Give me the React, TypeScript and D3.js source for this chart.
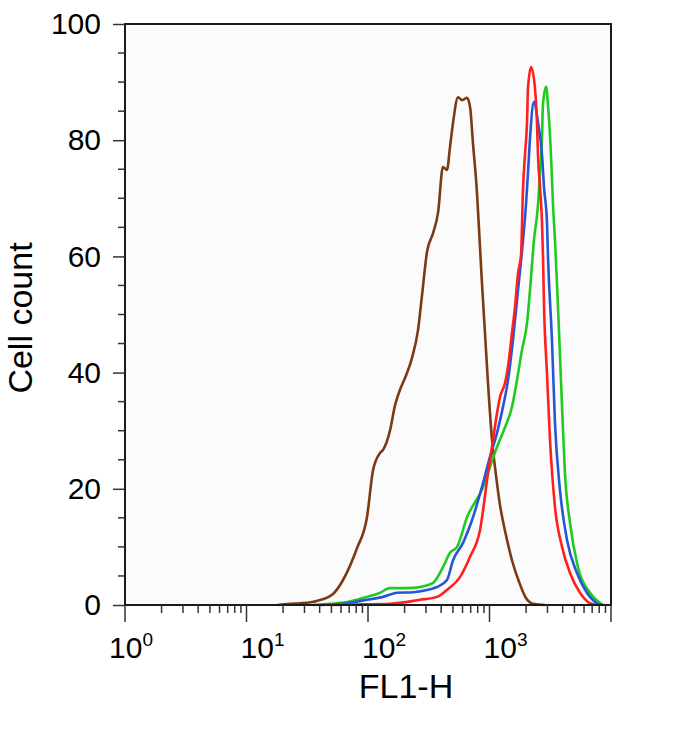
import React, { useEffect, useRef } from "react";
import * as d3 from "d3";

// y axis
const yMajor = [0, 20, 40, 60, 80, 100];
const yMinor = d3.range(0, 101, 5).filter(v => v % 20 !== 0);
// x axis decades (log scale)
const decades = [0, 1, 2, 3, 4];
const labelledDecades = [0, 1, 2, 3];

const xTitle = "FL1-H";
const yTitle = "Cell count";

// [FL1-H, cell count]
const brownCurve: [number, number][] = [
  [18.0, 0], [22.8, 0.2], [27.6, 0.3], [38.0, 0.7], [51.5, 1.9], [62.3, 4.3],
  [81.3, 9.8], [98.1, 15.1], [110, 23.2], [126, 26.2], [133, 26.7], [152, 30.1],
  [167, 34.4], [183, 37.0], [202, 39.1], [230, 42.5], [258, 47.3], [278, 53.2],
  [306, 60.8], [343, 64.0], [377, 67.5], [414, 75.4], [447, 74.9], [473, 78.8],
  [501, 83.0], [551, 87.4], [594, 86.9], [653, 87.3], [692, 85.7], [731, 79.5],
  [789, 70.9], [835, 61.6], [867, 55.4], [918, 46.8], [972, 38.2], [1049, 28.4],
  [1130, 22.4], [1220, 17.2], [1367, 12.0], [1531, 7.7], [1749, 4.0], [1995, 1.2],
  [2280, 0.2], [2864, 0]
];

const greenCurve: [number, number][] = [
  [35.3, 0], [48.7, 0.2], [67.2, 0.5], [90.9, 1.2], [125.6, 2.1], [151.7, 2.9],
  [209.4, 2.9], [267.9, 3.1], [342.8, 3.8], [414.0, 6.5], [473.2, 9.0], [540.8, 10.0],
  [653.1, 15.1], [885.1, 20.3], [1009, 23.8], [1153, 27.2], [1342, 30.6], [1531, 34.1],
  [1683, 38.7], [1851, 43.9], [2036, 48.5], [2155, 54.2], [2323, 62.8], [2506, 68.8],
  [2606, 74.5], [2704, 80.4], [2754, 86.1], [2917, 89.2], [3027, 86.1], [3206, 77.5],
  [3334, 68.8], [3459, 62.8], [3664, 51.3], [3954, 34.1], [4178, 22.7], [4603, 14.1],
  [5346, 6.5], [6714, 2.1], [8590, 0]
];

const blueCurve: [number, number][] = [
  [40.3, 0], [67.2, 0.3], [98.1, 0.9], [132.8, 1.4], [173.2, 2.1], [234.4, 2.2],
  [306.0, 2.6], [369.8, 3.1], [446.7, 4.3], [501.2, 7.7], [605.3, 10.7], [731.1, 15.1],
  [885.1, 21.0], [1009, 25.5], [1153, 29.6], [1291, 34.1], [1420, 38.7], [1560, 45.6],
  [1717, 54.2], [1888, 62.8], [1995, 68.8], [2075, 74.5], [2155, 80.4], [2323, 86.6],
  [2506, 83.1], [2704, 77.5], [2812, 71.8], [2972, 65.9], [3027, 60.2], [3266, 45.6],
  [3459, 31.3], [3802, 19.8], [4345, 11.2], [5248, 5.5], [6339, 2.1], [7674, 0.3],
  [8590, 0]
];

const redCurve: [number, number][] = [
  [48.7, 0], [90.9, 0.1], [151.7, 0.2], [267.9, 0.9], [369.8, 1.4], [446.7, 2.6],
  [571.5, 4.8], [691.8, 8.3], [835.6, 12.9], [972.7, 22.7], [1069, 28.4], [1153, 33.0],
  [1220, 35.8], [1342, 38.2], [1420, 41.0], [1531, 46.8], [1622, 51.3], [1717, 57.1],
  [1817, 60.2], [1888, 71.8], [1959, 77.5], [2036, 83.1], [2075, 89.0], [2198, 92.6],
  [2366, 89.0], [2459, 83.1], [2506, 77.5], [2606, 71.8], [2704, 65.9], [2754, 60.2],
  [2812, 51.3], [2972, 39.9], [3148, 28.4], [3459, 16.9], [3954, 10.0], [4603, 5.5],
  [5559, 2.1], [6714, 0.3], [7674, 0]
];

const curves = [
  { data: brownCurve, color: "#7b3a12" },
  { data: greenCurve, color: "#22c922" },
  { data: blueCurve, color: "#2456d6" },
  { data: redCurve, color: "#ff1f1f" }
];

function Histogram() {
  const ref = useRef<SVGSVGElement>(null);

  useEffect(() => {
    const svg = d3.select(ref.current);
    svg.selectAll("*").remove();

    const left = 125, right = 611, top = 24, bottom = 605;
    const font = "'Liberation Sans', Arial, sans-serif";

    const x = d3.scaleLog().domain([1, 1e4]).range([left, right]);
    const y = d3.scaleLinear().domain([0, 100]).range([bottom, top]);

    // plot background
    svg.append("rect")
      .attr("x", left).attr("y", top)
      .attr("width", right - left).attr("height", bottom - top)
      .attr("fill", "#fbfbfb");

    // curves
    const line = d3.line<[number, number]>()
      .x(d => x(d[0]))
      .y(d => y(d[1]))
      .curve(d3.curveMonotoneX);

    curves.forEach(c => {
      svg.append("path")
        .attr("d", line(c.data))
        .attr("fill", "none")
        .attr("stroke", c.color)
        .attr("stroke-width", 2.6)
        .attr("stroke-linejoin", "round");
    });

    // frame
    svg.append("rect")
      .attr("x", left).attr("y", top)
      .attr("width", right - left).attr("height", bottom - top)
      .attr("fill", "none")
      .attr("stroke", "#1a1a1a")
      .attr("stroke-width", 2);

    // y axis
    const yAxis = d3.axisLeft(y)
      .tickValues(yMajor)
      .tickSize(12)
      .tickSizeOuter(0)
      .tickPadding(12);

    const gy = svg.append("g")
      .attr("transform", `translate(${left},0)`)
      .call(yAxis);
    gy.select(".domain").remove();
    gy.selectAll("line").attr("stroke", "#333").attr("stroke-width", 1.5);
    gy.selectAll("text")
      .attr("font-family", font)
      .attr("font-size", 30)
      .attr("fill", "#000");

    svg.append("g").selectAll("line")
      .data(yMinor)
      .enter()
      .append("line")
      .attr("x1", left - 7).attr("x2", left)
      .attr("y1", d => y(d)).attr("y2", d => y(d))
      .attr("stroke", "#333").attr("stroke-width", 1.5);

    // x axis ticks
    const minor: number[] = [];
    decades.slice(0, -1).forEach(p => {
      for (let m = 2; m <= 9; m++) minor.push(m * Math.pow(10, p));
    });

    svg.append("g").selectAll("line")
      .data(minor)
      .enter()
      .append("line")
      .attr("x1", d => x(d)).attr("x2", d => x(d))
      .attr("y1", bottom).attr("y2", bottom + 8)
      .attr("stroke", "#333").attr("stroke-width", 1.5);

    svg.append("g").selectAll("line")
      .data(decades)
      .enter()
      .append("line")
      .attr("x1", d => x(Math.pow(10, d))).attr("x2", d => x(Math.pow(10, d)))
      .attr("y1", bottom).attr("y2", bottom + 17)
      .attr("stroke", "#333").attr("stroke-width", 1.5);

    const xl = svg.append("g").selectAll("text")
      .data(labelledDecades)
      .enter()
      .append("text")
      .attr("x", d => x(Math.pow(10, d)) - (d === 0 ? 16 : 6))
      .attr("y", 658)
      .attr("font-family", font)
      .attr("font-size", 30)
      .attr("fill", "#000");
    xl.append("tspan").text("10");
    xl.append("tspan")
      .attr("font-size", 19)
      .attr("dy", -12)
      .text(d => String(d));

    // axis titles
    svg.append("text")
      .attr("x", (left + right) / 2 + 38)
      .attr("y", 698)
      .attr("text-anchor", "middle")
      .attr("font-family", font)
      .attr("font-size", 34)
      .attr("fill", "#000")
      .text(xTitle);

    svg.append("text")
      .attr("transform", `translate(32, ${318}) rotate(-90)`)
      .attr("text-anchor", "middle")
      .attr("font-family", font)
      .attr("font-size", 34)
      .attr("fill", "#000")
      .text(yTitle);
  }, []);

  return (
    <svg
      ref={ref}
      width={681}
      height={734}
      style={{ position: "absolute", left: 0, top: 0, background: "#ffffff" }}
    />
  );
}

export default function App() {
  return <Histogram />;
}
